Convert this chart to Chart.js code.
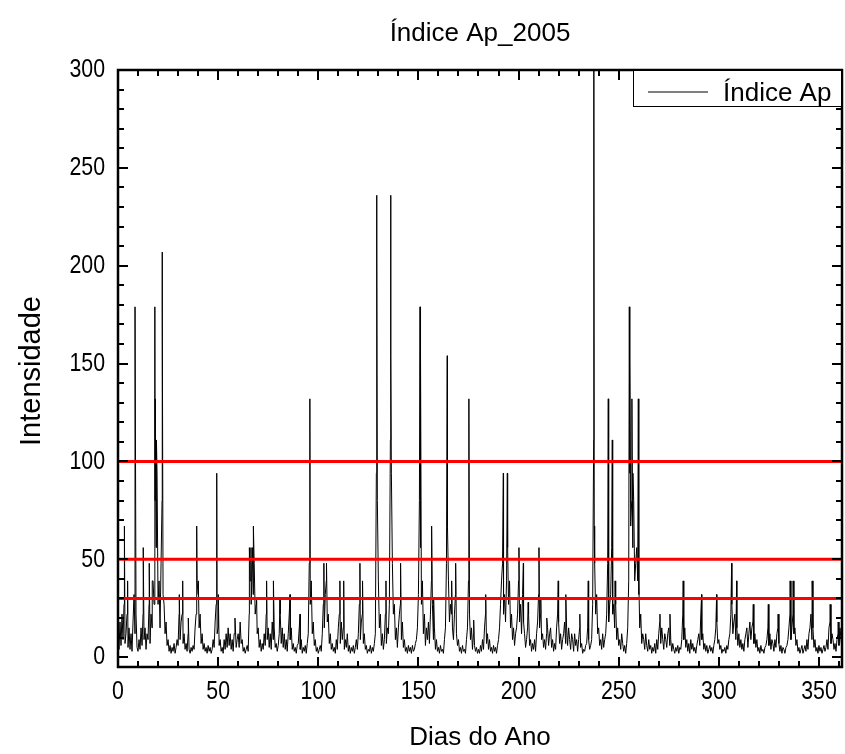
<!DOCTYPE html>
<html><head><meta charset="utf-8">
<script src="https://cdn.jsdelivr.net/npm/chart.js@4.4.1/dist/chart.umd.min.js"></script>
<style>html,body{margin:0;padding:0;background:#fff;} #wrap{width:845px;height:754px;}</style>
</head><body><div id="wrap"><canvas id="c" width="845" height="754"></canvas></div>
<script>
const chartTitle = 'Índice Ap_2005';
const xTitle = 'Dias do Ano';
const yTitle = 'Intensidade';
const seriesLabel = 'Índice Ap';
const xTickLabels = [0,50,100,150,200,250,300,350];
const yTickLabels = [0,50,100,150,200,250,300];
const thresholdLevels = [30,50,100];
const baseStep = 0.5;

// background ap values, two per day (days 0 .. 361.5)
const baseQ1 = [
12,4,18,6,22,9,27,7,12,22,5,15,4,12,3,18,32,12,22,5,
3,9,4,15,6,22,9,15,4,12,9,27,7,22,15,39,27,80,56,94,
27,39,15,48,80,32,27,12,18,6,9,3,6,2,5,3,7,2,5,9,
6,22,9,18,22,7,12,4,7,3,12,4,2,5,3,6,4,15,22,39,
32,15,22,7,12,4,7,3,5,2,6,3,5,2,4,9,5,18,27,12,
15,6,9,3,5,2,9,4,12,5,15,6,12,4,9,3,12,18,5,9,
12,5,18,7,9,3,5,2,4,6,3,22,39,27,48,32,48,22,27,12,
15,5,9,3,7,4,12,6,22,9,15,5,12,4,18,9,15,5,7,3,
6,12,22,7,15,5,12,4,9,3,12,22,9,15,4,7,3,5,2,6];
const baseQ2 = [
7,15,4,9,2,5,3,6,2,7,12,48,27,39,12,18,6,9,3,5,
2,4,6,3,12,27,15,32,39,18,22,7,12,4,7,3,5,2,9,4,
15,22,7,18,9,15,4,9,5,12,3,6,2,5,3,6,2,5,9,4,
12,27,9,18,22,7,12,4,6,2,4,3,6,2,5,3,7,12,94,80,
39,15,22,6,12,4,9,22,7,15,12,27,111,94,48,22,27,9,15,5,
15,22,27,9,18,5,9,3,5,2,6,3,5,2,6,3,4,7,9,15,
32,80,56,27,39,12,22,6,15,9,18,7,22,39,27,9,15,4,9,3,
5,2,6,3,4,2,9,15,48,67,39,18,27,22,15,9,22,32,12,6,
9,3,5,2,6,3,4,2,9,15,39,22,9,15,4,12,6,3,5,2];
const baseQ3 = [
4,2,6,3,9,4,15,22,7,12,4,9,3,5,2,6,3,5,2,6,
9,15,27,39,48,22,32,18,39,56,27,39,15,22,9,15,6,12,15,22,
39,18,27,12,32,18,12,5,9,15,22,6,9,3,7,4,9,3,12,18,
32,15,22,9,12,5,9,4,12,15,6,12,15,5,9,3,7,4,15,22,
18,7,12,4,9,12,18,7,15,6,15,9,4,12,9,3,12,6,9,3,
9,15,5,7,2,4,3,6,7,15,9,4,6,9,27,111,48,22,32,12,
15,6,9,4,12,5,9,12,22,48,18,27,32,56,22,27,15,27,9,15,
6,9,4,12,7,3,6,2,7,15,39,94,67,80,56,80,39,48,56,39,
32,15,22,7,12,9,4,12,6,3,9,4,6,2,5,3,7,2,9,4];
const baseQ4 = [
12,18,7,15,9,4,12,9,5,12,15,6,9,3,7,4,2,5,3,6,
2,5,4,9,22,9,15,5,9,3,7,2,9,4,7,3,5,2,6,9,
12,6,22,9,12,4,7,3,6,2,4,6,3,5,2,6,9,15,18,7,
9,4,6,2,4,3,5,2,6,4,9,12,22,27,12,18,22,9,15,6,
12,5,9,4,7,3,9,12,15,5,12,18,9,15,18,7,12,5,9,3,
5,2,6,3,4,2,5,6,9,15,6,12,4,9,7,3,9,5,12,15,
7,3,6,2,5,4,2,5,6,9,15,22,9,15,22,12,15,6,9,3,
5,2,4,6,2,4,6,3,9,4,12,15,22,9,15,5,9,3,5,2,
6,3,5,2,4,6,3,5,9,4,15,18,7,12,9,4,7,3,9,12,
6,15,9,4];

// 3-hourly peaks (day, ap)
const spikeDays = [3.2,4.8,8.5,12.6,15.6,17.1,18.4,18.6,19.2,20.8,22.0,22.2,30.6,32.3,35.1,39.3,40.1,49.3,50.1,58.4,
65.6,66.4,67.1,67.6,69.2,74.2,77.6,80.9,85.9,90.9,95.8,102.8,104.1,110.8,112.7,120.8,122.1,129.1,129.3,133.8,
136.1,136.3,136.6,141.1,150.8,151.1,156.6,157.6,164.4,166.6,168.6,175.2,177.6,183.6,192.1,192.4,194.4,194.6,200.2,202.4,
204.8,210.2,211.1,214.1,219.8,223.6,230.6,234.8,237.6,237.8,244.8,246.8,248.2,255.3,255.6,256.6,257.1,259.8,260.1,270.6,
275.6,282.2,291.4,298.9,306.4,308.9,317.2,324.7,329.6,335.6,337.1,346.6,355.6,359.6];
const spikeAp = [67,39,179,56,48,39,179,132,111,39,207,179,32,39,20,67,39,94,32,20,
56,56,56,67,30,39,39,30,32,22,132,48,48,39,39,48,39,236,207,39,
236,154,94,48,179,154,67,30,154,39,48,132,19,32,48,94,94,56,56,48,
28,56,30,20,39,32,22,39,300,67,132,111,39,179,154,132,94,132,39,22,
22,39,32,32,48,39,27,27,22,39,39,39,27,18];

const baseline = baseQ1.concat(baseQ2, baseQ3, baseQ4);
const apPoints = baseline.map((v, i) => ({x: i * baseStep, y: v}));
spikeDays.forEach((d, i) => apPoints.push({x: d, y: spikeAp[i]}));
apPoints.sort((a, b) => a.x - b.x);
const xMax = (baseline.length - 1) * baseStep;

const thresholdSets = thresholdLevels.map(l => ({
  label: 'limiar ' + l,
  data: [{x: 0, y: l}, {x: xMax, y: l}],
  borderColor: '#ff0000', borderWidth: 3, pointRadius: 0, order: 1
}));

const fontFamily = "'Liberation Sans', Arial, sans-serif";
const textFont = "26px " + fontFamily;

const framePlugin = {
  id: 'frame',
  afterDraw(chart) {
    const {ctx, chartArea: a, scales: {x, y}} = chart;
    ctx.save();
    ctx.strokeStyle = '#000';
    ctx.lineWidth = 2;
    ctx.beginPath();
    for (let v = 0; v <= xMax; v += 10) {
      const px = Math.round(x.getPixelForValue(v));
      const len = v % 50 === 0 ? 10 : 6;
      ctx.moveTo(px, a.bottom); ctx.lineTo(px, a.bottom - len);
      ctx.moveTo(px, a.top); ctx.lineTo(px, a.top + len);
    }
    for (let v = 0; v <= 300; v += 10) {
      const py = Math.round(y.getPixelForValue(v));
      const len = v % 50 === 0 ? 10 : 6;
      ctx.moveTo(a.left, py); ctx.lineTo(a.left + len, py);
      ctx.moveTo(a.right, py); ctx.lineTo(a.right - len, py);
    }
    ctx.stroke();
    ctx.lineWidth = 2.5;
    ctx.strokeRect(a.left, a.top, a.right - a.left, a.bottom - a.top);

    // tick labels (condensed face)
    ctx.fillStyle = '#000';
    ctx.font = textFont;
    x.ticks.forEach(t => {
      const px = x.getPixelForValue(t.value);
      ctx.save();
      ctx.translate(px, a.bottom + 12);
      ctx.scale(0.82, 1);
      ctx.textAlign = 'center'; ctx.textBaseline = 'top';
      ctx.fillText(String(t.value), 0, 0);
      ctx.restore();
    });
    y.ticks.forEach(t => {
      const py = y.getPixelForValue(t.value);
      ctx.save();
      ctx.translate(a.left - 13, py);
      ctx.scale(0.82, 1);
      ctx.textAlign = 'right'; ctx.textBaseline = 'middle';
      ctx.fillText(String(t.value), 0, 0);
      ctx.restore();
    });

    // legend box
    const bw = 209, bh = 37;
    const bx = a.right - bw, by = a.top;
    ctx.fillStyle = '#fff';
    ctx.fillRect(bx, by, bw, bh);
    ctx.lineWidth = 1;
    ctx.strokeRect(bx + 0.5, by + 0.5, bw - 1, bh - 1);
    ctx.beginPath();
    ctx.moveTo(bx + 15, by + 22); ctx.lineTo(bx + 75, by + 22);
    ctx.stroke();
    ctx.fillStyle = '#000';
    ctx.textAlign = 'left';
    ctx.textBaseline = 'alphabetic';
    ctx.fillText(seriesLabel, bx + 90, by + 31);

    // titles
    ctx.textAlign = 'center';
    ctx.fillText(chartTitle, (a.left + a.right) / 2, 41);
    ctx.fillText(xTitle, (a.left + a.right) / 2, 745);
    ctx.font = "29px " + fontFamily;
    ctx.translate(40, 371);
    ctx.rotate(-Math.PI / 2);
    ctx.fillText(yTitle, 0, 0);
    ctx.restore();
  }
};

new Chart(document.getElementById('c'), {
  type: 'line',
  data: {
    datasets: [
      {label: seriesLabel, data: apPoints, borderColor: '#000', borderWidth: 1, pointRadius: 0, tension: 0, order: 2},
      ...thresholdSets
    ]
  },
  options: {
    responsive: false,
    animation: false,
    events: [],
    layout: {padding: {top: 70, right: 3, left: 0, bottom: 0}},
    plugins: {legend: {display: false}, title: {display: false}, tooltip: {enabled: false}},
    scales: {
      x: {
        type: 'linear', min: 0, max: xMax,
        afterFit: s => { s.height = 87; s.paddingLeft = 0; s.paddingRight = 0; },
        afterBuildTicks: s => { s.ticks = xTickLabels.map(v => ({value: v})); },
        grid: {display: false, drawTicks: false},
        border: {display: false},
        ticks: {display: false}
      },
      y: {
        type: 'linear', min: -5, max: 300,
        afterFit: s => { s.width = 118; s.paddingTop = 0; s.paddingBottom = 0; },
        afterBuildTicks: s => { s.ticks = yTickLabels.map(v => ({value: v})); },
        grid: {display: false, drawTicks: false},
        border: {display: false},
        ticks: {display: false}
      }
    }
  },
  plugins: [framePlugin]
});
</script>
</body></html>
